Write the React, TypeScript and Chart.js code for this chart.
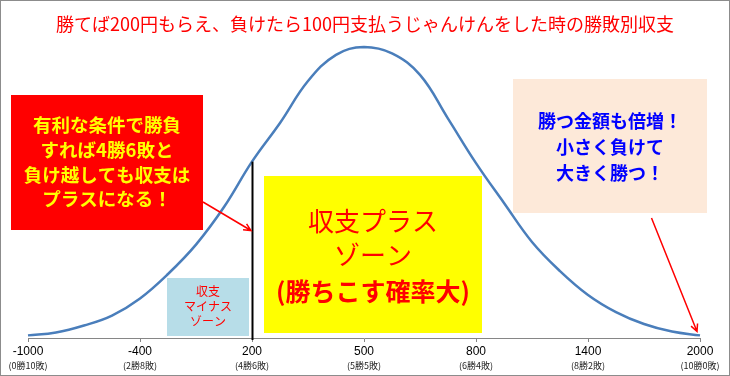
import { useEffect, useRef } from 'react';
import { Chart, registerables } from 'chart.js';

Chart.register(...registerables);

// Category positions along the x axis (equally spaced in the reference)
const tickPositions = [0, 1, 2, 3, 4, 5, 6];
const tickAmounts = ['-1000', '-400', '200', '500', '800', '1400', '2000'];
const tickRecords = ['(0勝10敗)', '(2勝8敗)', '(4勝6敗)', '(5勝5敗)', '(6勝4敗)', '(8勝2敗)', '(10勝0敗)'];

// Bell curve (relative frequency, peak = 100)
const curveX = [0, 0.25, 0.5, 0.75, 1, 1.25, 1.5, 1.75, 2, 2.25, 2.5, 2.75, 3, 3.25, 3.5, 3.75, 4, 4.25, 4.5, 4.75, 5, 5.25, 5.5, 5.75, 6];
const curveY = [0.9, 1.9, 4.3, 7.7, 13.6, 22, 32.1, 45, 60.6, 73.9, 88.3, 97.3, 100, 97.8, 90.4, 75.4, 60.1, 46.4, 33, 23, 14.8, 8.9, 4.8, 2.2, 0.9];

const breakEvenPos = 2; // 200円 (4勝6敗)
const breakEvenValue = 60.6;

const titleText = '勝てば200円もらえ、負けたら100円支払うじゃんけんをした時の勝敗別収支';
const redNote = ['有利な条件で勝負', 'すれば4勝6敗と', '負け越しても収支は', 'プラスになる！'];
const blueNote = ['収支', 'マイナス', 'ゾーン'];
const yellowNote = ['収支プラス', 'ゾーン', '(勝ちこす確率大)'];
const peachNote = ['勝つ金額も倍増！', '小さく負けて', '大きく勝つ！'];

const JP = '"Noto Sans CJK JP", "Noto Sans", sans-serif';

function drawArrow(ctx: CanvasRenderingContext2D, x1: number, y1: number, x2: number, y2: number, color: string) {
  ctx.save();
  ctx.strokeStyle = color;
  ctx.lineWidth = 1.5;
  ctx.beginPath();
  ctx.moveTo(x1, y1);
  ctx.lineTo(x2, y2);
  const a = Math.atan2(y2 - y1, x2 - x1);
  const L = 8;
  const s = 0.45;
  ctx.moveTo(x2 - L * Math.cos(a - s), y2 - L * Math.sin(a - s));
  ctx.lineTo(x2, y2);
  ctx.lineTo(x2 - L * Math.cos(a + s), y2 - L * Math.sin(a + s));
  ctx.stroke();
  ctx.restore();
}

function drawBox(
  ctx: CanvasRenderingContext2D,
  x: number, y: number, w: number, h: number, fill: string,
  lines: string[], ys: number[], fonts: string[], color: string
) {
  ctx.save();
  ctx.fillStyle = fill;
  ctx.fillRect(x, y, w, h);
  ctx.fillStyle = color;
  ctx.textAlign = 'center';
  ctx.textBaseline = 'middle';
  lines.forEach((t, i) => {
    ctx.font = fonts[i];
    ctx.fillText(t, x + w / 2, ys[i]);
  });
  ctx.restore();
}

const decorPlugin = {
  id: 'decor',
  afterDraw(chart: any) {
    const ctx: CanvasRenderingContext2D = chart.ctx;
    const xs = chart.scales.x;
    const ys = chart.scales.y;
    ctx.save();
    // outer border
    ctx.strokeStyle = '#8c8c8c';
    ctx.lineWidth = 1;
    ctx.strokeRect(0.5, 0.5, chart.width - 1, chart.height - 1);

    // title
    ctx.fillStyle = '#ff0000';
    ctx.font = '18px ' + JP;
    ctx.textAlign = 'center';
    ctx.textBaseline = 'middle';
    ctx.fillText(titleText, 365, 24);

    // second line of the tick labels
    ctx.fillStyle = '#222';
    ctx.font = '9px ' + JP;
    tickPositions.forEach((p, i) => {
      ctx.fillText(tickRecords[i], xs.getPixelForValue(p), 366);
    });

    // break-even vertical line
    const bx = Math.round(xs.getPixelForValue(breakEvenPos)) + 0.5;
    ctx.strokeStyle = '#000';
    ctx.lineWidth = 2;
    ctx.beginPath();
    ctx.moveTo(bx, ys.getPixelForValue(breakEvenValue));
    ctx.lineTo(bx, ys.getPixelForValue(0) + 2);
    ctx.stroke();
    ctx.restore();

    // notes
    drawBox(ctx, 11, 95, 192, 135, '#ff0000', redNote, [124.5, 150, 174.5, 198.5],
      redNote.map(() => 'bold 18.5px ' + JP), '#ffff00');
    drawBox(ctx, 167, 278, 82, 58, '#b7dde8', blueNote, [291.5, 306.5, 321],
      blueNote.map(() => '12px ' + JP), '#ff0000');
    drawBox(ctx, 264, 176, 218, 157, '#ffff00', yellowNote, [221.5, 255.5, 291.5],
      ['26px ' + JP, '26px ' + JP, 'bold 25px ' + JP], '#ff0000');
    drawBox(ctx, 513, 79, 194, 134, '#fde9d9', peachNote, [121.5, 147.5, 173],
      peachNote.map(() => 'bold 18px ' + JP), '#0000ff');

    drawArrow(ctx, 203, 202, 251, 230.5, '#ff0000');
    drawArrow(ctx, 651.5, 218, 697, 331.5, '#ff0000');
  },
};

export default function App() {
  const ref = useRef<HTMLCanvasElement>(null);
  useEffect(() => {
    const canvas = ref.current!;
    const chart = new Chart(canvas, {
      type: 'line',
      data: {
        datasets: [
          {
            data: curveX.map((x, i) => ({ x, y: curveY[i] })),
            borderColor: '#4a7ebb',
            borderWidth: 2.5,
            pointRadius: 0,
            tension: 0.4,
            fill: false,
            clip: false,
          },
        ],
      },
      options: {
        responsive: false,
        animation: false,
        devicePixelRatio: 1,
        layout: { padding: { left: 28, right: 30, top: 47, bottom: 0 } },
        plugins: { legend: { display: false }, tooltip: { enabled: false }, title: { display: false } },
        scales: {
          x: {
            type: 'linear',
            min: 0,
            max: 6,
            afterBuildTicks: (s: any) => {
              s.ticks = tickPositions.map((v) => ({ value: v }));
            },
            afterFit: (s: any) => {
              s.height = 38;
            },
            ticks: {
              autoSkip: false,
              maxRotation: 0,
              padding: 2,
              color: '#000',
              font: { size: 12, family: '"Liberation Sans", sans-serif' },
              callback: (v: any) => {
                const i = tickPositions.indexOf(Number(v));
                return i >= 0 ? tickAmounts[i] : '';
              },
            },
            grid: { display: true, drawOnChartArea: false, drawTicks: true, tickLength: 4, color: '#868686' },
            border: { display: true, color: '#868686' },
          },
          y: { display: false, min: 0, max: 100 },
        },
      },
      plugins: [decorPlugin],
    } as any);
    return () => chart.destroy();
  }, []);
  return (
    <div style={{ position: 'absolute', left: 0, top: 0, width: 730, height: 376, background: '#fff' }}>
      <canvas ref={ref} width={730} height={376} style={{ display: 'block' }} />
    </div>
  );
}
